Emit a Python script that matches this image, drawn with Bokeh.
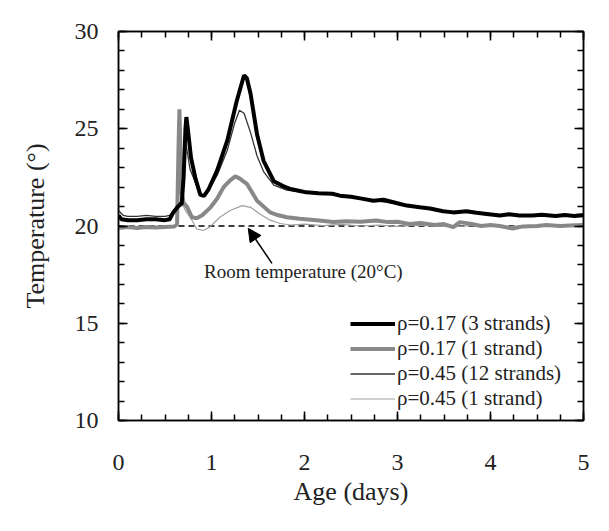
from bokeh.plotting import figure
from bokeh.models import (FixedTicker, LinearAxis, Range1d, Legend, LegendItem,
                          Label, Arrow, NormalHead)
from bokeh.embed import file_html
from bokeh.resources import INLINE

# ---------------- data ----------------
x_thick3 = [0.0, 0.03, 0.1, 0.2, 0.3, 0.4, 0.5, 0.55, 0.59, 0.64, 0.68, 0.7, 0.72, 0.73, 0.75, 0.78, 0.83,
            0.88, 0.92, 0.97, 1.06, 1.17, 1.27, 1.35, 1.38, 1.42, 1.49, 1.56, 1.67, 1.77, 1.85, 1.95,
            2.02, 2.15, 2.3, 2.38, 2.5, 2.6, 2.74, 2.85, 3.03, 3.1, 3.24, 3.35, 3.49, 3.6, 3.74, 3.85,
            3.96, 4.1, 4.2, 4.31, 4.45, 4.55, 4.7, 4.8, 4.9, 5.0]
t_thick3 = [20.55, 20.35, 20.3, 20.3, 20.35, 20.35, 20.3, 20.35, 20.7, 21.0, 21.15, 22.5, 25.0, 25.6,
            24.8, 23.5, 22.4, 21.6, 21.55, 21.9, 22.85, 24.4, 26.4, 27.75, 27.6, 26.8, 24.7, 23.35,
            22.3, 22.05, 21.9, 21.8, 21.73, 21.68, 21.66, 21.56, 21.5, 21.42, 21.3, 21.35, 21.13, 21.05,
            20.96, 20.9, 20.76, 20.7, 20.76, 20.68, 20.62, 20.54, 20.6, 20.54, 20.54, 20.58, 20.52,
            20.56, 20.52, 20.55]

x_thick1 = [0.0, 0.1, 0.2, 0.3, 0.4, 0.5, 0.6, 0.63, 0.645, 0.655, 0.665, 0.675, 0.7, 0.74, 0.79, 0.84,
            0.9, 0.99, 1.06, 1.13, 1.2, 1.255, 1.3, 1.38, 1.49, 1.63, 1.72, 1.81, 1.95, 2.13, 2.31, 2.45,
            2.6, 2.77, 2.9, 3.0, 3.13, 3.25, 3.4, 3.5, 3.6, 3.67, 3.8, 3.9, 4.0, 4.1, 4.24, 4.35, 4.5,
            4.6, 4.75, 4.85, 5.0]
t_thick1 = [19.9, 19.95, 19.9, 19.95, 19.92, 19.95, 19.97, 20.1, 24.0, 26.0, 24.0, 21.8, 21.2, 20.96,
            20.45, 20.4, 20.55, 20.96, 21.4, 22.0, 22.35, 22.55, 22.45, 22.17, 21.3, 20.7, 20.55, 20.45,
            20.37, 20.3, 20.2, 20.25, 20.22, 20.28, 20.2, 20.22, 20.1, 20.15, 20.05, 20.1, 19.94, 20.2,
            20.1, 20.0, 20.05, 20.0, 19.87, 19.98, 20.0, 20.05, 20.0, 20.02, 20.05]

x_thin12 = [0.0, 0.05, 0.1, 0.2, 0.3, 0.4, 0.5, 0.55, 0.59, 0.64, 0.68, 0.7, 0.72, 0.74, 0.77, 0.83,
            0.88, 0.92, 0.97, 1.06, 1.17, 1.25, 1.3, 1.35, 1.42, 1.49, 1.56, 1.67, 1.81, 1.95, 2.1,
            2.3, 2.5, 2.7, 2.9, 3.1, 3.3, 3.5, 3.7, 3.9, 4.1, 4.3, 4.5, 4.7, 4.9, 5.0]
t_thin12 = [20.8, 20.55, 20.5, 20.5, 20.55, 20.5, 20.5, 20.55, 20.8, 21.1, 21.3, 22.6, 24.3, 23.8,
            22.9, 22.2, 21.6, 21.55, 21.85, 22.6, 23.9, 25.3, 25.95, 25.8, 24.8, 23.6, 22.8, 22.1,
            21.85, 21.75, 21.7, 21.62, 21.5, 21.35, 21.2, 21.05, 20.92, 20.78, 20.72, 20.65, 20.58,
            20.56, 20.55, 20.56, 20.58, 20.62]

x_thin1 = [0.0, 0.1, 0.2, 0.3, 0.4, 0.5, 0.6, 0.63, 0.645, 0.655, 0.665, 0.68, 0.72, 0.79, 0.84, 0.91,
           0.98, 1.09, 1.2, 1.33, 1.42, 1.52, 1.63, 1.74, 1.85, 2.0, 2.2, 2.4, 2.6, 2.8, 3.0, 3.2,
           3.4, 3.6, 3.8, 4.0, 4.2, 4.4, 4.6, 4.8, 5.0]
t_thin1 = [19.95, 19.9, 19.95, 19.92, 19.95, 19.93, 19.97, 20.1, 23.5, 25.5, 23.0, 21.2, 20.8, 20.3,
           19.85, 19.77, 19.94, 20.45, 20.8, 21.05, 20.96, 20.62, 20.3, 20.13, 20.05, 20.1, 20.02,
           20.08, 20.0, 20.05, 19.98, 20.05, 20.0, 19.95, 20.03, 20.0, 19.97, 20.02, 20.0, 20.03, 20.0]

room_temp = 20.0
x_ticks = [0, 1, 2, 3, 4, 5]
y_ticks = [10, 15, 20, 25, 30]
x_minor = [i * 0.25 for i in range(21)]
y_minor = list(range(10, 31))

labels = ["ρ=0.17 (3 strands)", "ρ=0.17 (1 strand)", "ρ=0.45 (12 strands)", "ρ=0.45 (1 strand)"]

FONT = "Liberation Serif"

p = figure(frame_width=465, frame_height=389, output_backend="svg", toolbar_location=None,
           x_range=Range1d(0, 5), y_range=Range1d(10, 30),
           min_border_left=118, min_border_right=18, min_border_top=31, min_border_bottom=103,
           x_axis_label="Age (days)", y_axis_label="Temperature (°)")
p.grid.visible = False
p.outline_line_color = "black"
p.outline_line_width = 1.5
p.background_fill_color = "white"
p.border_fill_color = "white"

xa = p.below[0]
ya = p.left[0]
xt = LinearAxis()
yr = LinearAxis()
p.add_layout(xt, "above")
p.add_layout(yr, "right")

for ax in (xa, xt):
    ax.ticker = FixedTicker(ticks=x_ticks, minor_ticks=x_minor)
for ax in (ya, yr):
    ax.ticker = FixedTicker(ticks=y_ticks, minor_ticks=y_minor)

for ax in (xa, ya, xt, yr):
    ax.major_tick_in = 9
    ax.major_tick_out = 0
    ax.minor_tick_in = 6
    ax.minor_tick_out = 0
    ax.axis_line_color = "black"
    ax.axis_line_width = 1.5
    ax.major_tick_line_width = 1.5
    ax.minor_tick_line_width = 1.5
    ax.major_label_text_font = FONT
    ax.major_label_text_font_size = "24px"
    ax.major_label_text_color = "#222222"
    ax.axis_label_text_font = FONT
    ax.axis_label_text_font_size = "26px"
    ax.axis_label_text_font_style = "normal"
    ax.axis_label_text_color = "#222222"

xa.major_label_standoff = 34
xa.axis_label_standoff = 4
ya.major_label_standoff = 20
ya.axis_label_standoff = 22
# no labels on the secondary axes
xt.major_label_overrides = {t: "" for t in x_ticks}
yr.major_label_overrides = {t: "" for t in y_ticks}

# room temperature line
p.line([0, 5], [room_temp, room_temp], line_color="black", line_width=1.6, line_dash="6 4")

r4 = p.line(x_thin1, t_thin1, line_color="#a0a0a0", line_width=1.2)
r2 = p.line(x_thick1, t_thick1, line_color="#888888", line_width=4)
r3 = p.line(x_thin12, t_thin12, line_color="#333333", line_width=1.3)
r1 = p.line(x_thick3, t_thick3, line_color="black", line_width=4)

legend = Legend(items=[LegendItem(label=labels[0], renderers=[r1]),
                       LegendItem(label=labels[1], renderers=[r2]),
                       LegendItem(label=labels[2], renderers=[r3]),
                       LegendItem(label=labels[3], renderers=[r4])],
                location=(232, 9), padding=0, margin=0, spacing=0,
                glyph_width=45, glyph_height=25, label_height=25, label_standoff=2,
                label_text_font=FONT, label_text_font_size="21px", label_text_color="#222222",
                border_line_color=None, background_fill_alpha=0)
p.add_layout(legend, "center")

p.add_layout(Arrow(end=NormalHead(size=13, fill_color="black", line_color="black"),
                   x_start=1.65, y_start=18.08, x_end=1.395, y_end=19.88,
                   line_color="black", line_width=1.5))
p.add_layout(Label(x=0.92, y=17.67, text="Room temperature (20°C)", text_font=FONT,
                   text_font_size="19px", text_baseline="middle", text_color="#222222"))

open("out.html", "w").write(file_html(p, INLINE))
